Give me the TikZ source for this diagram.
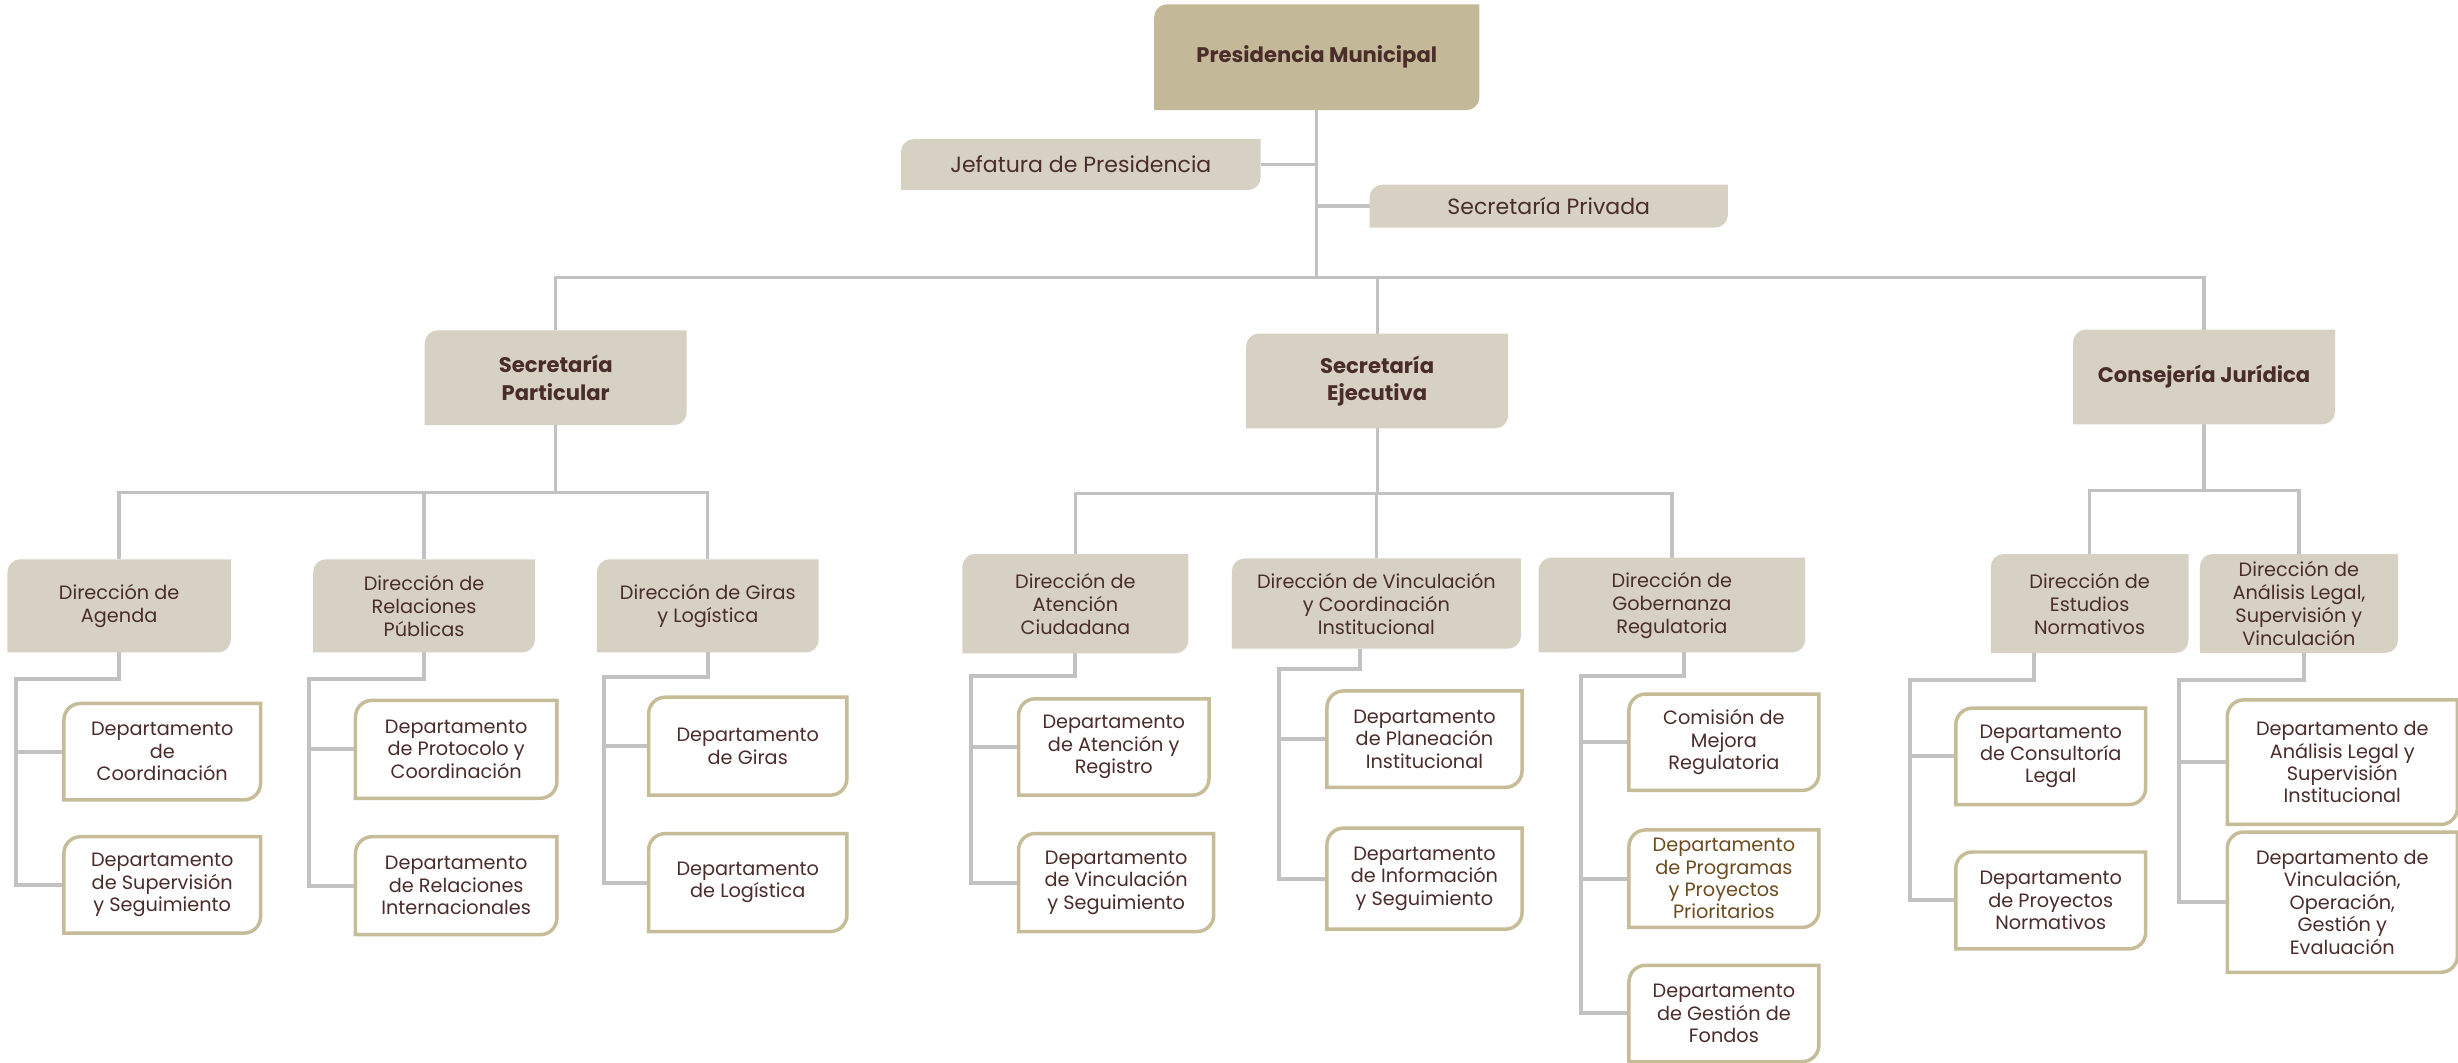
\documentclass[tikz,border=0pt]{standalone}
\usepackage{fontspec}
\setmainfont{Poppins}
\usetikzlibrary{shapes,backgrounds}

\definecolor{presfill}{HTML}{C3B998}
\definecolor{boxfill}{HTML}{D7D1C4}
\definecolor{deptline}{HTML}{C6BC98}
\definecolor{linkgray}{HTML}{C2C2C2}
\definecolor{txtbrown}{HTML}{4A2C2A}
\definecolor{txtgold}{HTML}{6E4A1F}

\tikzset{
  head/.style={shape=rectangle,align=center,inner sep=0pt,text=txtbrown,font=\fontsize{11.5}{15}\selectfont\bfseries},
  side/.style={shape=rectangle,align=center,inner sep=0pt,text=txtbrown,font=\fontsize{12}{14}\selectfont},
  dir/.style={shape=rectangle,align=center,inner sep=0pt,text=txtbrown,font=\fontsize{10.5}{12.5}\selectfont},
  dept/.style={shape=rectangle,align=center,inner sep=0pt,text=txtbrown,font=\fontsize{10.5}{12.2}\selectfont},
  link/.style={-,draw=linkgray,line width=1.8pt},
  sublink/.style={-,draw=linkgray,line width=2.2pt},
}

\begin{document}
\begin{tikzpicture}[x=0.03cm,y=-0.03cm]
\useasboundingbox (0,0) rectangle (1568,678);

\node[head,minimum width=6.21cm,minimum height=2.01cm] (0) at (840,36.5) {Presidencia Municipal};
\node[side,minimum width=6.87cm,minimum height=0.96cm] (1) at (689.5,105) {Jefatura de Presidencia};
\node[side,minimum width=6.84cm,minimum height=0.81cm] (2) at (988,131.5) {Secretaría Privada};
\node[head,minimum width=5cm,minimum height=1.8cm] (3) at (354.5,241) {Secretaría\\Particular};
\node[head,minimum width=5cm,minimum height=1.8cm] (4) at (878.5,243) {Secretaría\\Ejecutiva};
\node[head,minimum width=5cm,minimum height=1.8cm] (5) at (1406,240.5) {Consejería Jurídica};

\node[dir,minimum width=4.26cm,minimum height=1.77cm] (6) at (76,386.5) {Dirección de\\Agenda};
\node[dir,minimum width=4.23cm,minimum height=1.77cm] (7) at (270.5,386.5) {Dirección de\\Relaciones\\Públicas};
\node[dir,minimum width=4.23cm,minimum height=1.77cm] (8) at (451.5,386.5) {Dirección de Giras\\y Logística};
\node[dir,minimum width=4.31cm,minimum height=1.89cm] (9) at (686,385) {Dirección de\\Atención\\Ciudadana};
\node[dir,minimum width=5.52cm,minimum height=1.71cm] (10) at (878,385) {Dirección de Vinculación\\y Coordinación\\Institucional};
\node[dir,minimum width=5.09cm,minimum height=1.8cm] (11) at (1066.5,386) {Dirección de\\Gobernanza\\Regulatoria};
\node[dir,minimum width=3.77cm,minimum height=1.88cm] (12) at (1333,385) {Dirección de\\Estudios\\Normativos};
\node[dir,minimum width=3.78cm,minimum height=1.88cm] (13) at (1466.5,385) {Dirección de\\Análisis Legal,\\Supervisión y\\Vinculación};

\node[dept,minimum width=3.75cm,minimum height=1.83cm] (14) at (103.5,479.5) {Departamento\\de\\Coordinación};
\node[dept,minimum width=3.75cm,minimum height=1.83cm] (15) at (103.5,564.5) {Departamento\\de Supervisión\\y Seguimiento};
\node[dept,minimum width=3.84cm,minimum height=1.86cm] (16) at (291,478) {Departamento\\de Protocolo y\\Coordinación};
\node[dept,minimum width=3.84cm,minimum height=1.86cm] (17) at (291,565) {Departamento\\de Relaciones\\Internacionales};
\node[dept,minimum width=3.78cm,minimum height=1.86cm] (18) at (477,476) {Departamento\\de Giras};
\node[dept,minimum width=3.78cm,minimum height=1.86cm] (19) at (477,563) {Departamento\\de Logística};
\node[dept,minimum width=3.63cm,minimum height=1.83cm] (20) at (710.5,476.5) {Departamento\\de Atención y\\Registro};
\node[dept,minimum width=3.72cm,minimum height=1.86cm] (21) at (712,563) {Departamento\\de Vinculación\\y Seguimiento};
\node[dept,minimum width=3.72cm,minimum height=1.83cm] (22) at (908.7,471.5) {Departamento\\de Planeación\\Institucional};
\node[dept,minimum width=3.72cm,minimum height=1.92cm] (23) at (908.7,560.5) {Departamento\\de Información\\y Seguimiento};
\node[dept,minimum width=3.62cm,minimum height=1.83cm] (24) at (1099.7,473.5) {Comisión de\\Mejora\\Regulatoria};
\node[dept,minimum width=3.62cm,minimum height=1.85cm,text=txtgold] (25) at (1099.7,560.5) {Departamento\\de Programas\\y Proyectos\\Prioritarios};
\node[dept,minimum width=3.62cm,minimum height=1.83cm] (26) at (1099.7,646.5) {Departamento\\de Gestión de\\Fondos};
\node[dept,minimum width=3.62cm,minimum height=1.83cm] (27) at (1308.2,482.5) {Departamento\\de Consultoría\\Legal};
\node[dept,minimum width=3.62cm,minimum height=1.84cm] (28) at (1308.2,574.4) {Departamento\\de Proyectos\\Normativos};
\node[dept,minimum width=4.39cm,minimum height=2.37cm] (29) at (1494.2,486.2) {Departamento de\\Análisis Legal y\\Supervisión\\Institucional};
\node[dept,minimum width=4.39cm,minimum height=2.67cm] (30) at (1494.2,575.5) {Departamento de\\Vinculación,\\Operación,\\Gestión y\\Evaluación};

\coordinate (0k) at (840,177);
\coordinate (3k) at (354.5,314);
\coordinate (4k) at (878.5,315);
\coordinate (5k) at (1406,313);
\coordinate (6k) at (10,433);
\coordinate (7k) at (197,433);
\coordinate (8k) at (385,432);
\coordinate (9k) at (619.4,431);
\coordinate (10k) at (816,427);
\coordinate (11k) at (1008.6,431.4);
\coordinate (12k) at (1218.6,434);
\coordinate (13k) at (1390,434);

\begin{scope}[on background layer]
\path[link] (0.south) -- (0k) -| (3.north);
\path[link] (0k) -| (4.north);
\path[link] (0k) -| (5.north);
\path[link] (1.east) -- (1.east -| 0.south);
\path[link] (2.west) -- (2.west -| 0.south);

\path[link] (3.south) -- (3k) -| (6.north);
\path[link] (3k) -| (7.north);
\path[link] (3k) -| (8.north);
\path[link] (4.south) -- (4k) -| (9.north);
\path[link] (4k) -| (10.north);
\path[link] (4k) -| (11.north);
\path[link] (5.south) -- (5k) -| (12.north);
\path[link] (5k) -| (13.north);

\path[sublink] (6.south) |- (6k) |- (14.west);
\path[sublink] (6k) |- (15.west);
\path[sublink] (7.south) |- (7k) |- (16.west);
\path[sublink] (7k) |- (17.west);
\path[sublink] (8.south) |- (8k) |- (18.west);
\path[sublink] (8k) |- (19.west);
\path[sublink] (9.south) |- (9k) |- (20.west);
\path[sublink] (9k) |- (21.west);
\path[sublink] ([xshift=-0.315cm]10.south) |- (10k) |- (22.west);
\path[sublink] (10k) |- (23.west);
\path[sublink] ([xshift=0.225cm]11.south) |- (11k) |- (24.west);
\path[sublink] (11k) |- (25.west);
\path[sublink] (11k) |- (26.west);
\path[sublink] ([xshift=-1.07cm]12.south) |- (12k) |- (27.west);
\path[sublink] (12k) |- (28.west);
\path[sublink] ([xshift=0.1cm]13.south) |- (13k) |- (29.west);
\path[sublink] (13k) |- (30.west);

% cajas con esquinas redondeadas arriba a la izquierda y abajo a la derecha
\fill[presfill] (0.south west) -- ([yshift=-7pt]0.north west) arc[start angle=180,end angle=90,radius=7pt] -- (0.north east) -- ([yshift=7pt]0.south east) arc[start angle=0,end angle=-90,radius=7pt] -- cycle;
\foreach \n in {1,...,13}
  \fill[boxfill] (\n.south west) -- ([yshift=-7pt]\n.north west) arc[start angle=180,end angle=90,radius=7pt] -- (\n.north east) -- ([yshift=7pt]\n.south east) arc[start angle=0,end angle=-90,radius=7pt] -- cycle;
\foreach \n in {14,...,30}
  \filldraw[fill=white,draw=deptline,line width=1.9pt] (\n.south west) -- ([yshift=-9pt]\n.north west) arc[start angle=180,end angle=90,radius=9pt] -- (\n.north east) -- ([yshift=9pt]\n.south east) arc[start angle=0,end angle=-90,radius=9pt] -- cycle;
\end{scope}
\end{tikzpicture}
\end{document}
